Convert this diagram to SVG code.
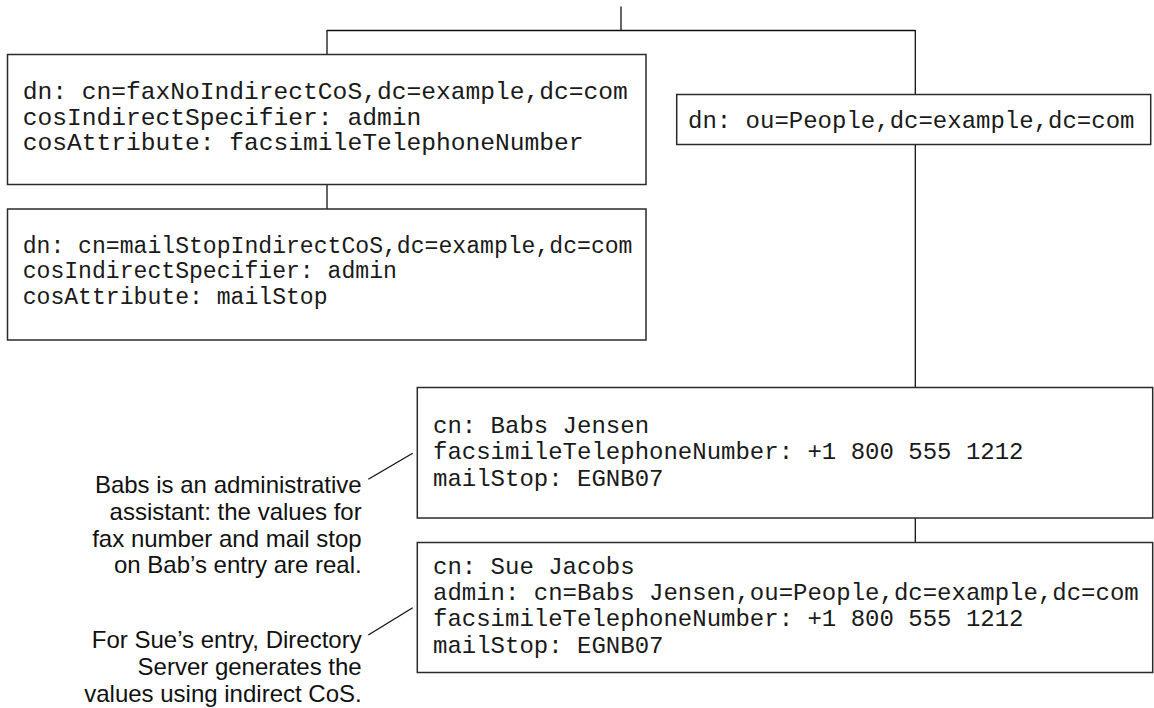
<svg xmlns="http://www.w3.org/2000/svg" width="1154" height="708" viewBox="0 0 1154 708">
<style>
.box{fill:#fff;stroke:#2a2a2a;stroke-width:1.5}
.mono{font-family:"Liberation Mono","Courier New",monospace;font-size:24px;fill:#1a1a1a}
.m1{font-size:24.6px}
.m2{font-size:23.1px}
.note{font-family:"Liberation Sans",Arial,sans-serif;font-size:24px;fill:#111;text-anchor:end}
.conn line{stroke:#111;stroke-width:1.3}
</style>
<rect width="1154" height="708" fill="#fff"/>
<g id="connectors" class="conn">
<line x1="621" y1="6.5" x2="621" y2="30.5"/>
<line x1="327" y1="30.5" x2="915.3" y2="30.5"/>
<line x1="327" y1="30" x2="327" y2="54.5"/>
<line x1="327" y1="184.5" x2="327" y2="209"/>
<line x1="915.3" y1="30" x2="915.3" y2="94.5"/>
<line x1="915.3" y1="144.5" x2="915.3" y2="387.5"/>
<line x1="915.3" y1="518" x2="915.3" y2="542.5"/>
<line x1="368.3" y1="479.3" x2="412.7" y2="453.3"/>
<line x1="368.3" y1="635" x2="412.7" y2="607.7"/>
</g>
<g id="faxCoS">
<rect class="box" x="7.5" y="54.5" width="638.5" height="130"/>
<text class="mono m1" x="22.7" y="99">dn: cn=faxNoIndirectCoS,dc=example,dc=com</text>
<text class="mono m1" x="22.7" y="124.5">cosIndirectSpecifier: admin</text>
<text class="mono m1" x="22.7" y="150">cosAttribute: facsimileTelephoneNumber</text>
</g>
<g id="mailCoS">
<rect class="box" x="7.5" y="209" width="638.5" height="131"/>
<text class="mono m2" x="22.7" y="252.5">dn: cn=mailStopIndirectCoS,dc=example,dc=com</text>
<text class="mono m2" x="22.7" y="278">cosIndirectSpecifier: admin</text>
<text class="mono m2" x="22.7" y="303.5">cosAttribute: mailStop</text>
</g>
<g id="people">
<rect class="box" x="676.7" y="94.5" width="474" height="50"/>
<text class="mono" x="688" y="128">dn: ou=People,dc=example,dc=com</text>
</g>
<g id="babs">
<rect class="box" x="417.3" y="387.5" width="735.4" height="130.5"/>
<text class="mono" x="433" y="432.5">cn: Babs Jensen</text>
<text class="mono" x="433" y="459">facsimileTelephoneNumber: +1 800 555 1212</text>
<text class="mono" x="433" y="485.5">mailStop: EGNB07</text>
</g>
<g id="sue">
<rect class="box" x="417.3" y="542.5" width="735.4" height="130"/>
<text class="mono" x="433" y="573.5">cn: Sue Jacobs</text>
<text class="mono" x="433" y="599.5">admin: cn=Babs Jensen,ou=People,dc=example,dc=com</text>
<text class="mono" x="433" y="626">facsimileTelephoneNumber: +1 800 555 1212</text>
<text class="mono" x="433" y="652.5">mailStop: EGNB07</text>
</g>
<g id="note-babs">
<text class="note" x="361.7" y="493">Babs is an administrative</text>
<text class="note" x="361.7" y="520">assistant: the values for</text>
<text class="note" x="361.7" y="546.7">fax number and mail stop</text>
<text class="note" x="361.7" y="573.3">on Bab’s entry are real.</text>
</g>
<g id="note-sue">
<text class="note" x="361.7" y="648.3">For Sue’s entry, Directory</text>
<text class="note" x="361.7" y="675">Server generates the</text>
<text class="note" x="361.7" y="701.7">values using indirect CoS.</text>
</g>
</svg>
